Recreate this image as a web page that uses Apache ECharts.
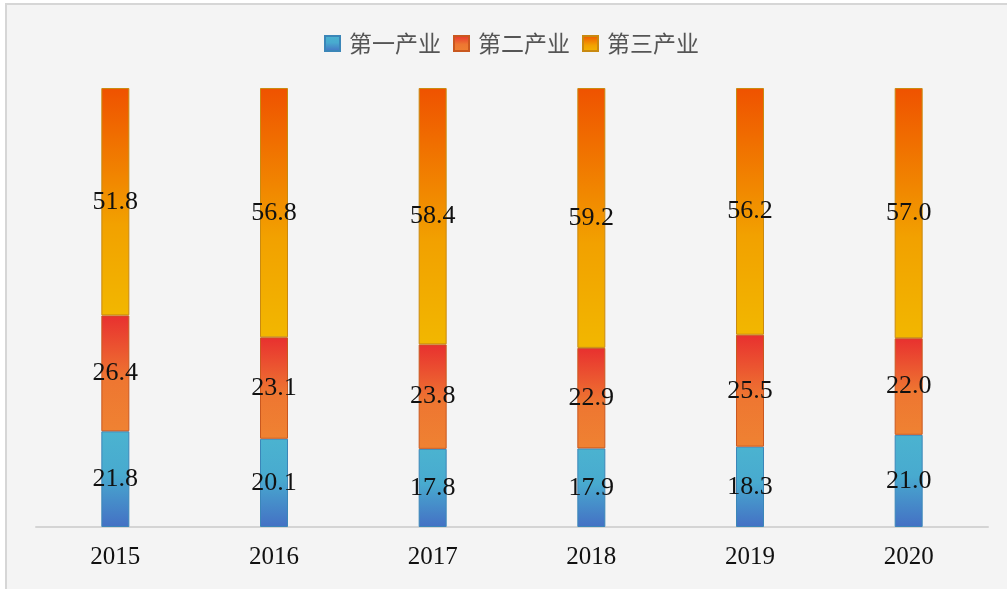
<!DOCTYPE html>
<html>
<head>
<meta charset="utf-8">
<script src="https://cdn.jsdelivr.net/npm/echarts@6/dist/echarts.min.js"></script>
<style>
  html, body { margin: 0; padding: 0; background: #ffffff; }
  #chart { width: 1007px; height: 589px; }
</style>
</head>
<body>
<div id="chart"></div>
<script>
// Years on the category axis
const years = ['2015', '2016', '2017', '2018', '2019', '2020'];
// Share of each industry (%)
const primary = [21.8, 20.1, 17.8, 17.9, 18.3, 21.0];
const secondary = [26.4, 23.1, 23.8, 22.9, 25.5, 22.0];
const tertiary = [51.8, 56.8, 58.4, 59.2, 56.2, 57.0];
const seriesNames = ['第一产业', '第二产业', '第三产业'];

const grad = (stops) => new echarts.graphic.LinearGradient(0, 0, 0, 1,
  stops.map(([offset, color]) => ({ offset, color })));

const serifFont = '"Liberation Serif", "Times New Roman", serif';

const labelStyle = {
  show: true,
  position: 'inside',
  fontFamily: serifFont,
  fontSize: 26,
  color: '#111111',
  formatter: (p) => p.value.toFixed(1)
};

function makeSeries(name, data, fill, border) {
  return {
    name,
    type: 'bar',
    stack: 'total',
    barWidth: 28,
    data,
    itemStyle: { color: fill, borderColor: border, borderWidth: 1 },
    label: labelStyle,
    emphasis: { disabled: true }
  };
}

const chart = echarts.init(document.getElementById('chart'), null, { renderer: 'canvas' });
chart.setOption({
  animation: false,
  backgroundColor: '#ffffff',
  graphic: [{
    type: 'rect',
    z: -100,
    silent: true,
    shape: { x: 6, y: 4, width: 1010, height: 600 },
    style: { fill: '#f4f4f4', stroke: '#d6d6d6', lineWidth: 2 }
  }],
  legend: {
    top: 27,
    left: 319,
    icon: 'rect',
    itemWidth: 15,
    itemHeight: 15,
    itemGap: 12,
    textStyle: {
      fontFamily: '"Noto Sans CJK SC", sans-serif',
      fontSize: 23,
      color: '#555555',
      padding: [0, 0, 0, 4]
    },
    data: seriesNames
  },
  grid: { left: 36, right: 19, top: 88, bottom: 62, containLabel: false },
  xAxis: {
    type: 'category',
    data: years,
    axisLine: { lineStyle: { color: '#d4d4d4', width: 2 } },
    axisTick: { show: false },
    axisLabel: {
      margin: 18,
      fontFamily: serifFont,
      fontSize: 25,
      color: '#111111'
    }
  },
  yAxis: {
    type: 'value',
    min: 0,
    max: 100,
    show: false,
    splitLine: { show: false }
  },
  series: [
    makeSeries(seriesNames[0], primary,
      grad([[0, '#4bb3d0'], [0.45, '#48aacf'], [1, '#4470c4']]), '#3b86b8'),
    makeSeries(seriesNames[1], secondary,
      grad([[0, '#e8302f'], [0.55, '#ee7631'], [1, '#ef8232']]), '#c9581f'),
    makeSeries(seriesNames[2], tertiary,
      grad([[0, '#ef5200'], [0.6, '#f2a100'], [1, '#f2b700']]), '#c98a10')
  ]
});
</script>
</body>
</html>
